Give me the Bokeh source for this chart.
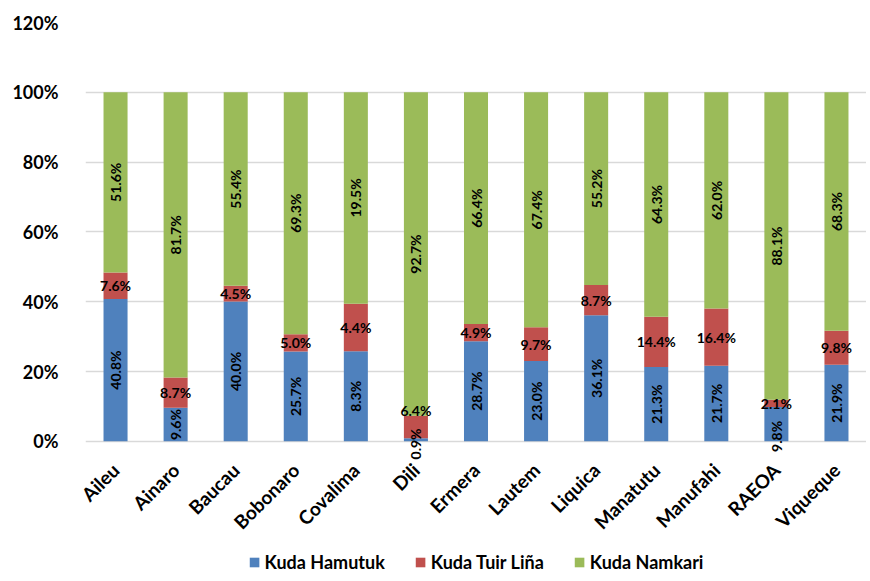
import math
from bokeh.plotting import figure
from bokeh.layouts import column
from bokeh.models import (ColumnDataSource, NumeralTickFormatter, Legend, LegendItem,
                          FixedTicker, Range1d)
from bokeh.core.properties import value
from bokeh.embed import file_html
from bokeh.resources import INLINE

districts = ["Aileu", "Ainaro", "Baucau", "Bobonaro", "Covalima", "Dili", "Ermera",
             "Lautem", "Liquica", "Manatutu", "Manufahi", "RAEOA", "Viqueque"]
series_names = ["Kuda Hamutuk", "Kuda Tuir Liña", "Kuda Namkari"]
hamutuk = [40.8, 9.6, 40.0, 25.7, 8.3, 0.9, 28.7, 23.0, 36.1, 21.3, 21.7, 9.8, 21.9]
tuir_lina = [7.6, 8.7, 4.5, 5.0, 4.4, 6.4, 4.9, 9.7, 8.7, 14.4, 16.4, 2.1, 9.8]
namkari = [51.6, 81.7, 55.4, 69.3, 19.5, 92.7, 66.4, 67.4, 55.2, 64.3, 62.0, 88.1, 68.3]
y_ticks = [0, 0.2, 0.4, 0.6, 0.8, 1.0, 1.2]

colors = ["#4F81BD", "#C0504D", "#9BBB59"]
FONT = "Lato"

totals = [a + b + c for a, b, c in zip(hamutuk, tuir_lina, namkari)]
fh = [a / t for a, t in zip(hamutuk, totals)]
ft = [b / t for b, t in zip(tuir_lina, totals)]
fn = [c / t for c, t in zip(namkari, totals)]

# labels nudged apart where a neighbouring segment is too thin
yh = [(a / 2 - 0.012) if a < 0.03 else (a / 2 - 0.035) if b < 0.03 else a / 2
      for a, b in zip(fh, ft)]
yt = [(a + b + 0.015) if a < 0.03 else (a + b / 2) for a, b in zip(fh, ft)]

src = ColumnDataSource(dict(
    d=districts, h=fh, t=ft, n=fn,
    yh=yh,
    yt=yt,
    yn=[a + b + c / 2 for a, b, c in zip(fh, ft, fn)],
    lh=[f"{v:.1f}%" for v in hamutuk],
    lt=[f"{v:.1f}%" for v in tuir_lina],
    ln=[f"{v:.1f}%" for v in namkari],
))

# a little room below 0 so that labels hanging under the baseline are not clipped
p = figure(x_range=districts, y_range=(-0.055, 1.2), frame_width=781, frame_height=438,
           output_backend="svg", toolbar_location=None,
           min_border_left=85, min_border_right=0, min_border_top=22, min_border_bottom=82)

rs = p.vbar_stack(["h", "t", "n"], x="d", width=0.4, color=colors, source=src,
                  line_color=None)

common = dict(source=src, text_font=value(FONT), text_font_style="bold",
              text_font_size="14px", text_color="black",
              text_align="center", text_baseline="middle")
p.text(x="d", y="yh", text="lh", angle=math.pi / 2, **common)
p.text(x="d", y="yt", text="lt", angle=0, **common)
p.text(x="d", y="yn", text="ln", angle=math.pi / 2, **common)

p.yaxis.ticker = FixedTicker(ticks=y_ticks)
p.yaxis.formatter = NumeralTickFormatter(format="0%")
p.yaxis.major_label_text_font = FONT
p.yaxis.major_label_text_font_style = "bold"
p.yaxis.major_label_text_font_size = "18px"
p.yaxis.major_label_text_color = "black"
p.yaxis.major_label_standoff = 21
p.yaxis.axis_line_color = None
p.yaxis.major_tick_line_color = None
p.yaxis.minor_tick_line_color = None

p.xaxis.major_label_orientation = math.pi / 4
p.xaxis.major_label_text_font = FONT
p.xaxis.major_label_text_font_style = "bold"
p.xaxis.major_label_text_font_size = "19px"
p.xaxis.major_label_text_color = "black"
p.xaxis.major_label_standoff = 0
p.xaxis.axis_line_color = None
p.xaxis.major_tick_line_color = None

p.xgrid.grid_line_color = None
p.ygrid.grid_line_color = "#D9D9D9"
p.ygrid.grid_line_width = 1.5
p.outline_line_color = None

# legend strip below the chart (its swatch glyphs sit outside the visible range)
lg = figure(width=866, height=36, x_range=Range1d(0, 1), y_range=Range1d(0, 1),
            output_backend="svg", toolbar_location=None, min_border=0)
lg.axis.visible = False
lg.grid.visible = False
lg.outline_line_color = None
items = []
for name, col in zip(series_names, colors):
    r = lg.vbar(x=[-10], top=[-10], bottom=[-11], width=0.1, color=col, line_color=None)
    items.append(LegendItem(label=name, renderers=[r]))
legend = Legend(items=items, orientation="horizontal", location="center",
                label_text_font=FONT, label_text_font_style="bold",
                label_text_font_size="18px", label_text_color="black",
                glyph_width=12, glyph_height=12,
                label_standoff=5, spacing=29, padding=2, margin=0,
                border_line_color=None, background_fill_alpha=0)
lg.add_layout(legend, "center")

layout = column(p, lg, spacing=0)
open("out.html", "w").write(file_html(layout, INLINE))
